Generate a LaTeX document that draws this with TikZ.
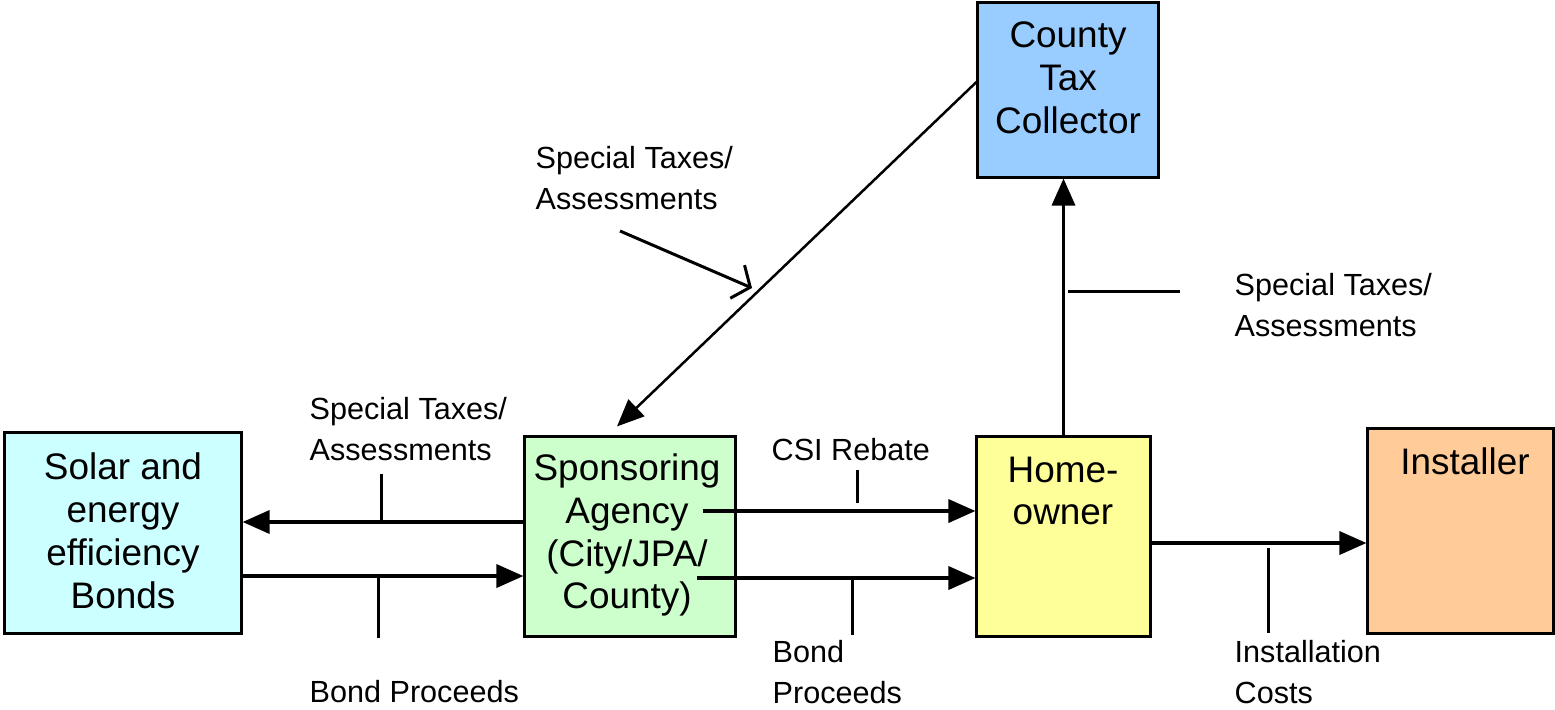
\documentclass[tikz,border=0pt]{standalone}
\usepackage{fontspec}
\setmainfont{Liberation Sans}
\usetikzlibrary{arrows.meta}

\definecolor{bondcyan}{HTML}{CCFFFF}
\definecolor{agencygreen}{HTML}{CCFFCC}
\definecolor{owneryellow}{HTML}{FFFF99}
\definecolor{installerorange}{HTML}{FFCC99}
\definecolor{collectorblue}{HTML}{99CCFF}

\tikzset{
  box/.style={draw, line width=0.03cm, inner sep=0pt},
  boxtext/.style={align=center, inner sep=0pt, font=\fontsize{10.5}{12.2}\selectfont},
  flowlabel/.style={align=left, anchor=west, inner sep=0pt, font=\fontsize{8.7}{11.9}\selectfont},
  flow/.style={line width=0.035cm, -{Triangle[length=0.27cm,width=0.23cm]}},
  thinflow/.style={line width=0.025cm, -{Triangle[length=0.27cm,width=0.23cm]}},
  pointer/.style={line width=0.03cm, -{Straight Barb[length=0.14cm,width=0.36cm]}},
  tick/.style={line width=0.03cm},
}

\begin{document}
\begin{tikzpicture}[x=0.01cm,y=-0.01cm]
                \useasboundingbox (0,0) rectangle (1555,709);

                % Box bonds
                \node [box, fill=bondcyan, minimum width=2.36cm, minimum height=2.00cm] (bonds) at (123,533) {};%
                \node [boxtext] (bondstext) at (123,531) {Solar and\\energy\\efficiency\\Bonds};%

                % Box agency
                \node [box, fill=agencygreen, minimum width=2.10cm, minimum height=1.99cm] (agency) at (630,536.5) {};%
                \node [boxtext] (agencytext) at (627,535) {Sponsoring\\Agency\\(City/JPA/\\County)};%

                % Box owner
                \node [box, fill=owneryellow, minimum width=1.73cm, minimum height=1.99cm] (owner) at (1063.5,536.5) {};%
                \node [boxtext] (ownertext) at (1063,491) {Home-\\owner};%

                % Box installer
                \node [box, fill=installerorange, minimum width=1.85cm, minimum height=2.04cm] (installer) at (1460.5,531) {};%
                \node [boxtext] (installertext) at (1465,461) {Installer};%

                % Box collector
                \node [box, fill=collectorblue, minimum width=1.80cm, minimum height=1.74cm] (collector) at (1068,90) {};%
                \node [boxtext] (collectortext) at (1068,78) {County\\Tax\\Collector};%

                % Drawing flow agency bonds
                \draw [flow] ([yshift=0.145cm]agency.west) -- ([yshift=0.145cm]agency.west -| bonds.east);%
                \coordinate (taxtick) at (381,474);%
                \draw [tick] (taxtick) -- ++(0,48);%

                % Drawing flow bonds agency
                \draw [flow] ([yshift=-0.43cm]bonds.east) -- ([yshift=-0.43cm]bonds.east -| agency.west);%
                \coordinate (proceedstick) at (378,576);%
                \draw [tick] (proceedstick) -- ++(0,62);%

                % Drawing flow agency owner (rebate)
                \coordinate (rebatestart) at (703,511);%
                \draw [flow] (rebatestart) -- (rebatestart -| owner.west);%
                \coordinate (rebatetick) at (857,470);%
                \draw [tick] (rebatetick) -- ++(0,33);%

                % Drawing flow agency owner (bond proceeds)
                \coordinate (bondstart) at (697,578);%
                \draw [flow] (bondstart) -- (bondstart -| owner.west);%
                \coordinate (bondtick) at (852,580);%
                \draw [tick] (bondtick) -- ++(0,55);%

                % Drawing flow owner installer
                \draw [flow] ([yshift=-0.065cm]owner.east) -- ([yshift=-0.065cm]owner.east -| installer.west);%
                \coordinate (costtick) at (1268,548);%
                \draw [tick] (costtick) -- ++(0,85);%

                % Drawing flow owner collector
                \draw [flow] (owner.north) -- (owner.north |- collector.south);%
                \coordinate (ownertaxtick) at (1068,291);%
                \draw [tick] (ownertaxtick) -- ++(112,0);%

                % Drawing flow collector agency
                \draw [thinflow] ([yshift=0.08cm]collector.west) -- ([xshift=-0.13cm,yshift=0.09cm]agency.north);%

                % Drawing pointer to diagonal
                \coordinate (pointerstart) at (620,231);%
                \coordinate (pointerend) at (752,288);%
                \draw [pointer] (pointerstart) -- (pointerend);%

                % Labels
                \node [flowlabel] (taxlabeltop) at (535,178) {Special Taxes/\\Assessments};%
                \node [flowlabel] (taxlabelright) at (1234,305) {Special Taxes/\\Assessments};%
                \node [flowlabel] (taxlabelleft) at (309,429) {Special Taxes/\\Assessments};%
                \node [flowlabel] (rebatelabel) at (771,450) {CSI Rebate};%
                \node [flowlabel] (proceedslabel) at (309,692) {Bond Proceeds};%
                \node [flowlabel] (bondlabel) at (772,672) {Bond\\Proceeds};%
                \node [flowlabel] (costlabel) at (1234,672) {Installation\\Costs};%
\end{tikzpicture}
\end{document}
